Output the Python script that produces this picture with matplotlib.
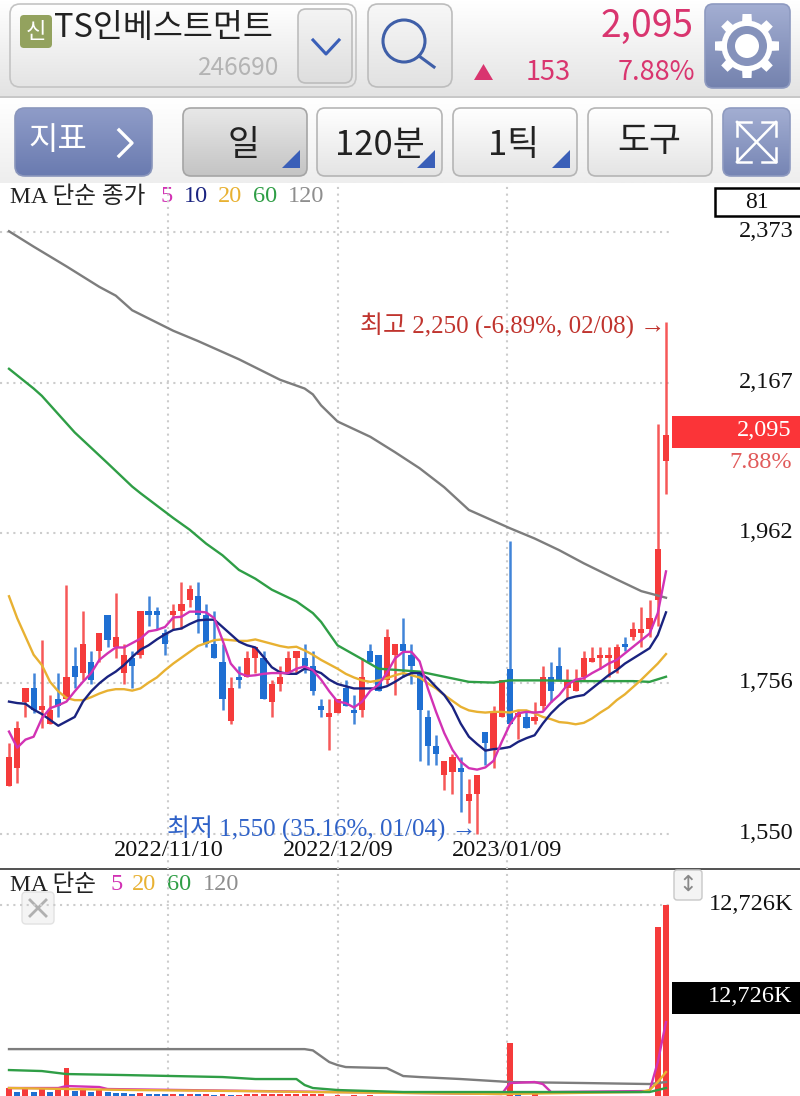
#!/usr/bin/env python3
"""TS인베스트먼트 daily candle chart with moving averages and volume, phone-app style."""

import numpy as np
import matplotlib
matplotlib.use("Agg")
import matplotlib.pyplot as plt
from matplotlib.patches import Circle, FancyBboxPatch, Polygon, Rectangle
from matplotlib.transforms import ScaledTranslation

# ---------- data ----------
opens = [1615, 1640, 1730, 1750, 1720, 1700, 1735, 1735, 1780, 1770, 1785, 1800, 1850, 1805, 1770, 1790, 1795,
         1855, 1855, 1825, 1850, 1855, 1870, 1875, 1850, 1810, 1785, 1705, 1765, 1765, 1790, 1790, 1730, 1755,
         1770, 1790, 1790, 1780, 1725, 1710, 1715, 1750, 1720, 1720, 1800, 1795, 1760, 1795, 1810, 1795, 1770,
         1710, 1670, 1630, 1635, 1640, 1595, 1605, 1690, 1665, 1710, 1775, 1710, 1710, 1705, 1725, 1765, 1780,
         1750, 1745, 1765, 1785, 1790, 1790, 1775, 1810, 1820, 1825, 1830, 1870, 2060]
highs = [1675, 1705, 1750, 1770, 1815, 1740, 1770, 1890, 1805, 1855, 1800, 1825, 1850, 1880, 1810, 1800, 1855,
         1875, 1860, 1830, 1865, 1895, 1890, 1895, 1865, 1855, 1810, 1765, 1780, 1800, 1805, 1800, 1760, 1780,
         1800, 1800, 1810, 1800, 1735, 1735, 1735, 1760, 1740, 1790, 1810, 1795, 1830, 1810, 1845, 1810, 1770,
         1720, 1685, 1650, 1660, 1655, 1625, 1630, 1690, 1725, 1760, 1950, 1720, 1720, 1730, 1780, 1785, 1805,
         1775, 1775, 1800, 1805, 1805, 1805, 1810, 1820, 1840, 1860, 1870, 2110, 2250]
lows = [1615, 1620, 1710, 1715, 1695, 1700, 1710, 1735, 1750, 1760, 1755, 1785, 1805, 1790, 1755, 1750, 1790,
        1835, 1830, 1795, 1830, 1830, 1860, 1825, 1805, 1790, 1720, 1700, 1750, 1765, 1770, 1735, 1710, 1745,
        1770, 1770, 1770, 1740, 1710, 1665, 1715, 1725, 1700, 1710, 1785, 1745, 1755, 1740, 1765, 1755, 1650,
        1645, 1645, 1610, 1605, 1580, 1565, 1550, 1645, 1640, 1710, 1700, 1680, 1695, 1700, 1720, 1730, 1760,
        1735, 1745, 1760, 1785, 1775, 1765, 1770, 1800, 1815, 1805, 1820, 1835, 2015]
closes = [1655, 1695, 1750, 1720, 1725, 1720, 1725, 1765, 1765, 1810, 1760, 1825, 1815, 1820, 1795, 1780, 1855,
          1850, 1850, 1810, 1855, 1865, 1885, 1850, 1810, 1790, 1735, 1750, 1760, 1790, 1805, 1735, 1755, 1765,
          1790, 1800, 1780, 1745, 1720, 1715, 1735, 1725, 1715, 1765, 1785, 1745, 1820, 1810, 1800, 1780, 1720,
          1670, 1660, 1650, 1655, 1635, 1605, 1630, 1675, 1715, 1760, 1700, 1715, 1695, 1710, 1765, 1745, 1760,
          1760, 1760, 1790, 1790, 1795, 1795, 1805, 1805, 1830, 1830, 1845, 1940, 2095]

ma5 = [1690, 1668, 1679, 1683, 1708, 1722, 1726, 1731, 1745, 1758, 1770, 1788, 1797, 1805, 1805, 1811, 1817,
       1827, 1829, 1833, 1846, 1847, 1854, 1854, 1853, 1845, 1815, 1783, 1770, 1766, 1767, 1769, 1770, 1770,
       1770, 1776, 1779, 1774, 1761, 1745, 1731, 1729, 1723, 1731, 1746, 1754, 1770, 1790, 1799, 1799, 1786,
       1749, 1717, 1688, 1665, 1649, 1640, 1638, 1641, 1650, 1676, 1700, 1715, 1717, 1716, 1717, 1730, 1740,
       1754, 1761, 1763, 1770, 1776, 1783, 1788, 1797, 1806, 1815, 1824, 1852, 1909]
ma10 = [1731, 1729, 1728, 1720, 1714, 1706, 1698, 1704, 1710, 1731, 1745, 1756, 1765, 1772, 1781, 1792, 1802,
        1808, 1816, 1823, 1829, 1831, 1837, 1842, 1843, 1843, 1833, 1823, 1813, 1808, 1805, 1792, 1778, 1771,
        1769, 1769, 1776, 1774, 1770, 1761, 1755, 1752, 1749, 1749, 1749, 1749, 1752, 1758, 1765, 1770, 1770,
        1763, 1751, 1740, 1724, 1701, 1683, 1673, 1664, 1666, 1667, 1669, 1676, 1681, 1685, 1701, 1715, 1726,
        1735, 1738, 1740, 1749, 1758, 1767, 1774, 1783, 1790, 1797, 1804, 1822, 1853]
ma20 = [1875, 1845, 1820, 1795, 1781, 1758, 1745, 1736, 1733, 1733, 1737, 1742, 1746, 1748, 1748, 1746, 1749,
        1757, 1764, 1774, 1783, 1791, 1799, 1807, 1811, 1815, 1816, 1815, 1814, 1814, 1816, 1813, 1810, 1807,
        1805, 1806, 1801, 1795, 1788, 1782, 1776, 1769, 1764, 1760, 1758, 1760, 1763, 1767, 1770, 1767, 1764,
        1756, 1749, 1740, 1732, 1724, 1719, 1717, 1716, 1717, 1717, 1716, 1719, 1719, 1715, 1710, 1707, 1703,
        1702, 1700, 1702, 1708, 1716, 1723, 1733, 1741, 1751, 1761, 1772, 1783, 1796]
ma60_idx = [0, 3, 4, 8, 12, 15, 16, 20, 22, 24, 26, 28, 30, 32, 35, 37, 38, 40, 43, 45, 50, 56, 59, 61, 65, 70,
            76, 78, 80]
ma60 = [2186, 2159, 2149, 2099, 2057, 2025, 2016, 1982, 1966, 1947, 1931, 1911, 1899, 1884, 1868, 1852, 1840,
        1808, 1789, 1776, 1772, 1758, 1757, 1760, 1760, 1759, 1759, 1758, 1765]
ma120_idx = [0, 3, 7, 11, 13, 15, 20, 23, 28, 33, 36, 37, 38, 39, 40, 44, 47, 50, 53, 56, 61, 64, 67, 70, 74, 77, 80]
ma120 = [2374, 2353, 2326, 2298, 2286, 2266, 2238, 2224, 2199, 2171, 2159, 2151, 2136, 2125, 2114, 2093, 2072,
         2050, 2024, 1993, 1968, 1954, 1938, 1920, 1898, 1882, 1873]

price_ticks = [2373, 2167, 1962, 1756, 1550]
date_pos = [19.4, 40.05, 60.65]
date_labels = ["2022/11/10", "2022/12/09", "2023/01/09"]

volume = [1360, 1100, 1300, 1100, 1340, 1100, 1300, 2600, 1200, 1320, 1120, 1300, 1100, 1060, 1040, 1020, 1060,
          1020, 1000, 980, 1010, 980, 1000, 970, 990, 960, 980, 940, 960, 965, 970, 975, 980, 985, 990, 995,
          1000, 1005, 1010, 900, 930, 890, 920, 880, 910, 870, 900, 860, 890, 850, 880, 840, 870, 830, 860,
          820, 850, 810, 840, 800, 830, 4150, 1000, 900, 1000, 800, 830, 760, 800, 730, 780, 720, 770, 710,
          760, 700, 750, 690, 760, 11350, 12726]
vol_ma5_idx = [0, 6, 7, 11, 12, 30, 60, 61, 64, 65, 66, 78, 79, 80]
vol_ma5 = [1364, 1364, 1488, 1426, 1302, 1178, 992, 1674, 1736, 1612, 1116, 1178, 2976, 5456]
vol_ma20_idx = [0, 15, 28, 37, 60, 77, 78, 79, 80]
vol_ma20 = [1364, 1240, 1178, 1116, 992, 1116, 1240, 1736, 2356]
vol_ma60_idx = [0, 4, 6, 7, 14, 26, 30, 35, 36, 37, 40, 48, 78, 80]
vol_ma60 = [2480, 2418, 2294, 2232, 2170, 2046, 1922, 1922, 1550, 1364, 1240, 1116, 1116, 1364]
vol_ma120_idx = [0, 36, 37, 39, 40, 41, 46, 48, 50, 55, 61, 70, 78, 80]
vol_ma120 = [3780, 3780, 3700, 2976, 2790, 2666, 2600, 2108, 2046, 1922, 1736, 1674, 1612, 1736]
vol_tick = 12726

# ---------- styling ----------
RED = "#f53b3b"
BLUE = "#1f6fd2"
MAGENTA = "#d232b4"
NAVY = "#1a2380"
ORANGE = "#e8b132"
GREEN = "#2f9e46"
GREY = "#7d7d7d"
PINK = "#d9356f"
BTN_BLUE = "#3a5fb8"
SANS = ["Noto Sans CJK KR", "DejaVu Sans"]
SERIF = ["Liberation Serif", "Noto Sans CJK KR", "DejaVu Sans"]
GRID = dict(color="#cccccc", lw=1.5, linestyle=(0, (1, 2.2)))
MA_LW = 1.7

W, H = 800, 1096
plt.rcParams["font.family"] = SANS
fig = plt.figure(figsize=(W / 100, H / 100), dpi=100)


def px_axes(left, top, right, bottom, **kw):
    return fig.add_axes([left / W, 1 - bottom / H, (right - left) / W, (bottom - top) / H], **kw)


ui = px_axes(0, 0, W, H)
ui.set_xlim(0, W)
ui.set_ylim(H, 0)
ui.axis("off")


def grad_rect(x0, y0, x1, y1, c0, c1, clip=None):
    ramp = np.linspace(0, 1, 64).reshape(-1, 1)
    im = ui.imshow(ramp, extent=(x0, x1, y1, y0), aspect="auto", origin="upper", zorder=1,
                   cmap=matplotlib.colors.LinearSegmentedColormap.from_list("g", [c0, c1]))
    if clip is not None:
        im.set_clip_path(clip)
    ui.set_xlim(0, W)
    ui.set_ylim(H, 0)


def button(x0, y0, x1, y1, c0="#ffffff", c1="#e4e4e4", edge="#b5b5b5", r=8):
    box = FancyBboxPatch((x0 + r, y0 + r), x1 - x0 - 2 * r, y1 - y0 - 2 * r,
                         boxstyle=f"round,pad={r}", fc="none", ec=edge, lw=1.2, zorder=2)
    ui.add_patch(box)
    grad_rect(x0, y0, x1, y1, c0, c1, clip=box)


def corner_tri(x, y):
    ui.add_patch(Polygon([(x, y + 18), (x + 18, y + 18), (x + 18, y)], fc=BTN_BLUE, ec="none", zorder=3))


# header strips
grad_rect(0, 0, W, 97, "#ffffff", "#e3e3e3")
ui.add_patch(Rectangle((0, 96), W, 2, fc="#c8c8c8", ec="none", zorder=2))
grad_rect(0, 98, W, 183, "#ffffff", "#eeeeee")

# name box
button(10, 4, 356, 87, edge="#c4c4c4", r=10)
button(298, 9, 352, 83, c0="#f4f4f4", c1="#dedede", edge="#bdbdbd")
badge = FancyBboxPatch((24, 19), 24, 25, boxstyle="round,pad=4", fc="#93a25e", ec="none", zorder=3)
ui.add_patch(badge)
ui.text(36, 31, "신", color="white", fontsize=16, ha="center", va="center", zorder=4)
ui.text(54, 28, "TS인베스트먼트", color="#222222", fontsize=23.5, ha="left", va="center", zorder=4)
ui.text(279, 68, "246690", color="#b4b4b4", fontsize=17.5, ha="right", va="center", zorder=4)
ui.plot([313, 326, 339], [40, 54, 40], color=BTN_BLUE, lw=2.2, zorder=4)

# search box
button(368, 4, 452, 87, c0="#f7f7f7", c1="#e2e2e2", edge="#bdbdbd", r=10)
ui.add_patch(Circle((404, 41), 21, fc="none", ec="#3f5fa8", lw=2.2, zorder=4))
ui.plot([419, 434], [56, 67], color="#3f5fa8", lw=2.2, zorder=4)

# quote
ui.text(694, 26, "2,095", color=PINK, fontsize=26.8, ha="right", va="center", zorder=4)
ui.add_patch(Polygon([(474, 80), (493, 80), (483.5, 64)], fc=PINK, ec="none", zorder=4))
ui.text(571, 72, "153", color=PINK, fontsize=19.5, ha="right", va="center", zorder=4)
ui.text(695, 72, "7.88%", color=PINK, fontsize=19.5, ha="right", va="center", zorder=4)

# gear button
button(705, 4, 790, 88, c0="#a3aed2", c1="#7482ae", edge="#8e9ac0", r=8)
for a in np.arange(8) * np.pi / 4:
    ca, sa = np.cos(a), np.sin(a)
    ui.add_patch(Polygon([(747 + 22 * ca - 5 * sa, 46 + 22 * sa + 5 * ca), (747 + 32 * ca - 4.5 * sa, 46 + 32 * sa + 4.5 * ca),
                          (747 + 32 * ca + 4.5 * sa, 46 + 32 * sa - 4.5 * ca), (747 + 22 * ca + 5 * sa, 46 + 22 * sa - 5 * ca)],
                         fc="white", ec="none", zorder=4))
ui.add_patch(Circle((747, 46), 25.5, fc="white", ec="none", zorder=4))
ui.add_patch(Circle((747, 46), 20, fc="#8592bb", ec="none", zorder=5))
ui.add_patch(Circle((747, 46), 12, fc="white", ec="none", zorder=6))

# second row
button(15, 108, 152, 176, c0="#8f9cc8", c1="#6a7bb0", edge="#8a96bc", r=10)
ui.text(58, 140, "지표", color="white", fontsize=23, ha="center", va="center", zorder=4)
ui.plot([119, 132, 119], [130, 143, 156], color="white", lw=2.4, zorder=4)
button(183, 108, 307, 176, c0="#e8e8e8", c1="#c4c4c4", edge="#a5a5a5")
ui.text(244, 145, "일", color="#222222", fontsize=25, ha="center", va="center", zorder=4)
corner_tri(282, 150)
button(317, 108, 442, 176)
ui.text(380, 145, "120분", color="#222222", fontsize=25, ha="center", va="center", zorder=4)
corner_tri(417, 150)
button(453, 108, 577, 176)
ui.text(514, 145, "1틱", color="#222222", fontsize=25, ha="center", va="center", zorder=4)
corner_tri(552, 150)
button(588, 108, 712, 176)
ui.text(649, 141, "도구", color="#222222", fontsize=25, ha="center", va="center", zorder=4)
button(723, 108, 790, 176, c0="#a3aed2", c1="#7685b4", edge="#8e9ac0", r=8)
for (xa, ya), (xb, yb) in [((737, 122), (776, 162)), ((776, 122), (737, 162))]:
    ui.plot([xa, xb], [ya, yb], color="white", lw=1.8, zorder=4)
for cx, cy, sx, sy in [(737, 122, 1, 1), (776, 122, -1, 1), (737, 162, 1, -1), (776, 162, -1, -1)]:
    ui.plot([cx + sx * 14, cx, cx], [cy, cy, cy + sy * 14], color="white", lw=1.8, zorder=4)

# ---------- price panel ----------
X0, DX = 9.0, 8.2125
PRICE_TOP_Y, PRICE_BOT_Y = 232.0, 834.0
per_px = (2373 - 1550) / (PRICE_BOT_Y - PRICE_TOP_Y)
ax = px_axes(0, 183, 673, 869, facecolor="none")
xlim = (-X0 / DX, (673 - X0) / DX)
ax.set_xlim(*xlim)
ax.set_ylim(1550 - (869 - PRICE_BOT_Y) * per_px, 1550 + (PRICE_BOT_Y - 183) * per_px)
for s in ax.spines.values():
    s.set_visible(False)

idx = np.arange(len(closes))
cols = [RED if c >= o else BLUE for o, c in zip(opens, closes)]
ax.vlines(idx, lows, highs, colors=cols, lw=1.8, alpha=0.85, zorder=2)
ax.bar(idx, np.abs(np.array(closes) - np.array(opens)), bottom=np.minimum(opens, closes),
       width=0.76, color=cols, zorder=3)
ax.plot(ma120_idx, ma120, color=GREY, lw=MA_LW, zorder=4)
ax.plot(ma60_idx, ma60, color=GREEN, lw=MA_LW, zorder=4)
ax.plot(idx, ma20, color=ORANGE, lw=MA_LW, zorder=4)
ax.plot(idx, ma10, color=NAVY, lw=MA_LW, zorder=4)
ax.plot(idx, ma5, color=MAGENTA, lw=MA_LW, zorder=4)

ax.set_xticks(date_pos, date_labels, fontsize=17.5, family=SERIF)
ax.tick_params(axis="x", length=0, pad=-21, colors="#111111")
ax.yaxis.tick_right()
ax.set_yticks(price_ticks, [f"{v:,}" for v in price_ticks], fontsize=17.5, family=SERIF, ha="right")
ax.tick_params(axis="y", length=0, pad=86.5, colors="#111111")
shift = ScaledTranslation(0, 2.2 / 72, fig.dpi_scale_trans)
for lab in ax.get_yticklabels():
    lab.set_transform(lab.get_transform() + shift)
ax.grid(True, zorder=0, **GRID)
ax.set_axisbelow(True)

ax.text(79.9, 2250 - 5, "최고 2,250 (-6.89%, 02/08) →", color="#c0342e", fontsize=18,
        family=SERIF, ha="right", va="center", zorder=6)
ax.text(56.9, 1550 + 7, "최저 1,550 (35.16%, 01/04) →", color="#2f62c8", fontsize=18,
        family=SERIF, ha="right", va="center", zorder=6)

# top legend and value boxes
ui.text(10, 197, "MA 단순 종가", color="#222222", fontsize=17, family=SERIF, va="center", zorder=6)
for x, s, c in [(160, "5", MAGENTA), (184, "10", NAVY), (218, "20", ORANGE), (253, "60", GREEN), (288, "120", "#8e8e8e")]:
    ui.text(x, 197, s, color=c, fontsize=17.5, family=SERIF, va="center", zorder=6)
ui.add_patch(Rectangle((715, 188), 90, 28, fc="white", ec="black", lw=1.8, zorder=6))
ui.text(757, 202, "81", color="#111111", fontsize=17, family=SERIF, ha="center", va="center", zorder=7)
ui.add_patch(Rectangle((672, 416), 128, 32, fc="#fb3438", ec="none", zorder=6))
ui.text(792, 431, "2,095", color="white", fontsize=17.5, family=SERIF, ha="right", va="center", zorder=7)
ui.text(792, 463, "7.88%", color="#e15b5b", fontsize=17.5, family=SERIF, ha="right", va="center", zorder=7)

# ---------- volume panel ----------
ui.add_patch(Rectangle((0, 868), W, 2.2, fc="#555555", ec="none", zorder=6))
VOL_ZERO_Y, VOL_TOP_Y = 1110.0, 905.0
k_per_px = vol_tick / (VOL_ZERO_Y - VOL_TOP_Y)
vx = px_axes(0, 870, 673, H, facecolor="none")
vx.set_xlim(*xlim)
vx.set_ylim((VOL_ZERO_Y - H) * k_per_px, (VOL_ZERO_Y - 870) * k_per_px)
for s in vx.spines.values():
    s.set_visible(False)

vol_cols = [RED] + [RED if b > a else BLUE for a, b in zip(volume, volume[1:])]
vx.bar(idx, volume, width=0.72, color=vol_cols, zorder=2)
vx.plot(vol_ma120_idx, vol_ma120, color=GREY, lw=MA_LW, zorder=3)
vx.plot(vol_ma5_idx, vol_ma5, color=MAGENTA, lw=MA_LW, zorder=4)
vx.plot(vol_ma20_idx, vol_ma20, color=ORANGE, lw=MA_LW, zorder=5)
vx.plot(vol_ma60_idx, vol_ma60, color=GREEN, lw=MA_LW, zorder=6)

vx.set_xticks(date_pos, [""] * len(date_pos))
vx.tick_params(axis="x", length=0)
vx.yaxis.tick_right()
vx.set_yticks([vol_tick], [f"{vol_tick:,}K"], fontsize=17.5, family=SERIF, ha="right")
vx.tick_params(axis="y", length=0, pad=86.5, colors="#111111")
for lab in vx.get_yticklabels():
    lab.set_transform(lab.get_transform() + shift)
vx.grid(True, zorder=0, **GRID)
vx.set_axisbelow(True)

ui.text(10, 885, "MA 단순", color="#222222", fontsize=17, family=SERIF, va="center", zorder=6)
for x, s, c in [(110, "5", MAGENTA), (132, "20", ORANGE), (167, "60", GREEN), (203, "120", "#8e8e8e")]:
    ui.text(x, 885, s, color=c, fontsize=17.5, family=SERIF, va="center", zorder=6)
ui.add_patch(Rectangle((672, 982), 128, 32, fc="black", ec="none", zorder=6))
ui.text(792, 996, f"{vol_tick:,}K", color="white", fontsize=17.5, family=SERIF, ha="right", va="center", zorder=7)

# close and resize buttons
ui.add_patch(FancyBboxPatch((26, 896), 24, 24, boxstyle="round,pad=4", fc="#f4f4f4", ec="#e2e2e2", lw=1, zorder=7))
ui.plot([30, 46], [900, 916], color="#b0b0b0", lw=2, zorder=8)
ui.plot([46, 30], [900, 916], color="#b0b0b0", lw=2, zorder=8)
ui.add_patch(FancyBboxPatch((677, 873), 22, 24, boxstyle="round,pad=3", fc="#f4f4f4", ec="#c8c8c8", lw=1, zorder=7))
ui.text(688, 885, "↕", color="#888888", fontsize=16, ha="center", va="center", family=["DejaVu Sans"], zorder=8)

fig.savefig("out.png", dpi=100)
